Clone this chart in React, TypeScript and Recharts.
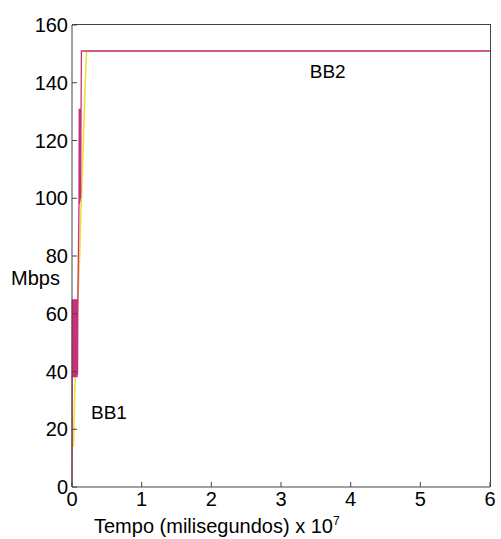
import { LineChart, Line, XAxis, YAxis, ReferenceDot } from 'recharts'

// tempo in units of 1e7 ms, rate in Mbps
const bb2Tempo = [0, 0.004, 0.008, 0.012, 0.016, 0.02, 0.024, 0.028, 0.032, 0.036, 0.04, 0.044, 0.048, 0.052, 0.056, 0.06, 0.064, 0.068, 0.072, 0.076, 0.08, 0.084, 0.1, 0.104, 0.108, 0.112, 0.116, 0.12, 0.124, 0.13, 0.135, 6]
const bb2Mbps = [0, 65, 38, 64, 39, 65, 38, 63, 40, 65, 38, 64, 39, 65, 38, 64, 40, 65, 38, 63, 39, 65, 97, 131, 98, 130, 99, 131, 100, 130, 151, 151]

const bb1Tempo = [0.02, 0.035, 0.05, 0.07, 0.09, 0.11, 0.13, 0.15, 0.17, 0.19, 0.21, 6]
const bb1Mbps = [14, 28, 42, 55, 68, 80, 97, 110, 125, 140, 151, 151]

const xTicks = [0, 1, 2, 3, 4, 5, 6]
const yTicks = [0, 20, 40, 60, 80, 100, 120, 140, 160]

const bb2 = bb2Tempo.map((t, i) => ({ t, v: bb2Mbps[i] }))
const bb1 = bb1Tempo.map((t, i) => ({ t, v: bb1Mbps[i] }))

const font = { fontFamily: 'Liberation Sans, Arial, sans-serif', fontSize: 20, fill: '#000' }
const axisColor = '#444'

const W = 501
const H = 539
const M = { top: 25, right: 11, bottom: 0, left: 0 }
const Y_AXIS_W = 72
const X_AXIS_H = 52

export default function App() {
  return (
    <div
      style={{
        position: 'fixed',
        left: 0,
        top: 0,
        width: W,
        height: H,
        overflow: 'hidden',
        background: '#fff',
      }}
    >
      <LineChart width={W} height={H} margin={M}>
        <XAxis
          dataKey="t"
          type="number"
          domain={[0, 6]}
          ticks={xTicks}
          allowDuplicatedCategory={false}
          height={X_AXIS_H}
          stroke={axisColor}
          tickSize={-5}
          tickMargin={10}
          tick={font}
          label={{
            position: 'insideBottom',
            content: () => (
              <text x={94} y={533} style={font} fontSize={19}>
                Tempo (milisegundos) x 10<tspan dy={-8} fontSize={12}>7</tspan>
              </text>
            ),
          }}
        />
        <YAxis
          type="number"
          domain={[0, 160]}
          ticks={yTicks}
          width={Y_AXIS_W}
          stroke={axisColor}
          tickSize={-5}
          tickMargin={9}
          tick={font}
          label={{
            position: 'insideLeft',
            content: () => (
              <text x={11} y={285} style={font} fontSize={19}>
                Mbps
              </text>
            ),
          }}
        />
        <Line
          data={bb1}
          dataKey="v"
          stroke="#f0e03c"
          strokeWidth={1.6}
          dot={false}
          isAnimationActive={false}
        />
        <Line
          data={bb2}
          dataKey="v"
          stroke="#c8307a"
          strokeWidth={1.3}
          dot={false}
          isAnimationActive={false}
        />
        <ReferenceDot x={3.67} y={144} r={0} label={{ value: 'BB2', ...font, fontSize: 19 }} />
        <ReferenceDot x={0.53} y={26} r={0} label={{ value: 'BB1', ...font, fontSize: 19 }} />
      </LineChart>
      {/* top and right sides of the plot box */}
      <div
        style={{
          position: 'absolute',
          left: M.left + Y_AXIS_W,
          top: M.top - 1,
          width: W - M.right - M.left - Y_AXIS_W + 1,
          height: H - M.top - M.bottom - X_AXIS_H + 1,
          borderTop: `1px solid ${axisColor}`,
          borderRight: `1px solid ${axisColor}`,
          boxSizing: 'border-box',
          pointerEvents: 'none',
        }}
      />
    </div>
  )
}
